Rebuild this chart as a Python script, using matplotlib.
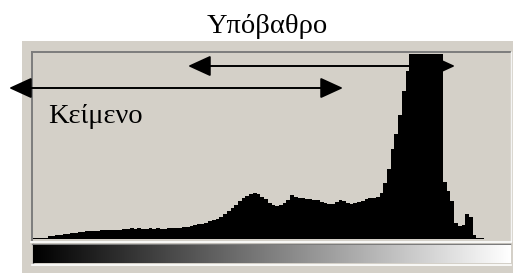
import numpy as np
import matplotlib.pyplot as plt
from matplotlib.patches import Rectangle

W, H = 513, 273

# histogram: 128 bins of 2 grey levels each, peak is clipped at the top
edges = np.arange(0, 258, 2)
counts = [
    1, 1, 1, 1, 3, 3.5, 4, 4.5, 5, 5.5,
    6, 6.5, 7, 7.3, 7.6, 7.9, 8.2, 8.4, 8.6, 8.8,
    9, 9.2, 9.4, 9.5, 9.6, 9.7, 11, 10, 11, 10,
    10, 11, 10.5, 11, 10.5, 10.5, 11, 11, 11, 11.5,
    12, 12, 13, 14, 15, 15.5, 16.5, 18, 19, 20,
    22, 25, 28, 31, 34, 38, 41, 43, 45, 46,
    45, 42, 40, 36, 34, 33, 34, 36, 39, 44,
    42, 41, 41, 40, 40, 39, 39, 37, 36, 35,
    35, 37, 39, 38, 36, 35, 36, 37, 38, 40,
    41, 41, 42, 46, 56, 70, 90, 105, 124, 148,
    168, 200, 250, 250, 250, 250, 250, 250, 250, 250,
    57, 48, 38, 16, 13, 14, 25, 22, 4, 1,
    1, 0.5, 0, 0, 0, 0, 0, 0,
]
y_max = 185

label_top = "Υπόβαθρο"
label_left = "Κείμενο"

panel = "#d4d0c8"
dark = "#7c7c7c"


def fig_box(x0, y0, x1, y1):
    # pixel box (top-left origin) -> figure fraction
    return [x0 / W, (H - y1) / H, (x1 - x0) / W, (y1 - y0) / H]


fig = plt.figure(figsize=(W / 100, H / 100), dpi=100)
fig.patch.set_facecolor("white")

# background panel in pixel coordinates
bg = fig.add_axes([0, 0, 1, 1], zorder=0)
bg.set_xlim(0, W)
bg.set_ylim(H, 0)
bg.axis("off")
bg.add_patch(Rectangle((22, 41), W - 22, H - 41, color=panel, lw=0))
# sunken frame of the histogram
bg.plot([31.5, 510], [51.5, 51.5], color=dark, lw=1.4)
bg.plot([31.5, 31.5], [51.5, 240], color=dark, lw=1.4)
bg.plot([510.5, 510.5], [51.5, 241], color="#f4f4f4", lw=1)
bg.plot([31, 511], [241.5, 241.5], color="white", lw=1.2)
# frame of the grey bar
bg.plot([32, 510], [244, 244], color=dark, lw=1)
bg.plot([32.5, 32.5], [244, 263], color=dark, lw=1)
bg.plot([32, 511], [264.5, 264.5], color="white", lw=1.2)

# histogram
ax = fig.add_axes(fig_box(33, 54, 510, 239), zorder=1)
ax.patch.set_alpha(0)
ax.stairs(counts, edges, fill=True, color="black", lw=0)
ax.set_xlim(0, 256)
ax.set_ylim(0, y_max)
ax.axis("off")

# grey level bar under the histogram
bar = fig.add_axes(fig_box(33, 244.5, 510, 263.5), zorder=1)
bar.imshow(np.arange(256)[None, :], cmap="gray", aspect="auto",
           extent=(0, 256, 0, 1), vmin=0, vmax=255)
bar.axis("off")

# arrows and labels on top
top = fig.add_axes([0, 0, 1, 1], zorder=2)
top.set_xlim(0, W)
top.set_ylim(H, 0)
top.patch.set_alpha(0)
top.axis("off")

arrow = dict(arrowstyle="<|-|>,head_length=0.7,head_width=0.32",
             color="black", lw=1.4, shrinkA=0, shrinkB=0, mutation_scale=20)
top.annotate("", xy=(455, 66), xytext=(188, 66), arrowprops=arrow)
top.annotate("", xy=(343, 88), xytext=(9, 88), arrowprops=arrow)

top.text(267, 33, label_top, ha="center", va="baseline",
         fontsize=20.5, family="Liberation Serif")
top.text(48, 123, label_left, ha="left", va="baseline",
         fontsize=20.5, family="Liberation Serif")

fig.savefig("out.png", dpi=100)
